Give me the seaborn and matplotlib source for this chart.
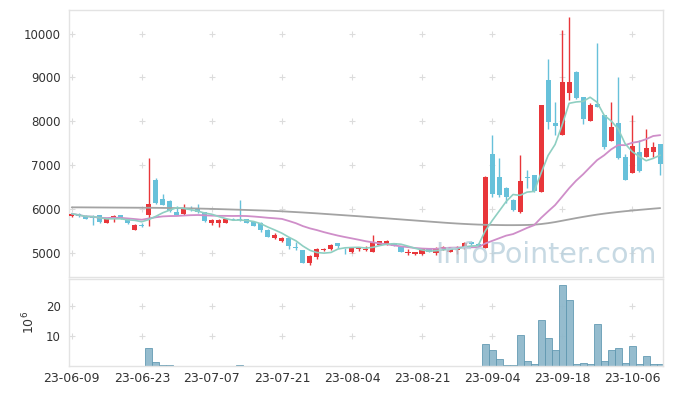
import numpy as np
import pandas as pd
import matplotlib
matplotlib.use("Agg")
import matplotlib.pyplot as plt
import seaborn as sns

# ---- data ----
opens = [5840, 5900, 5850, 5840, 5870, 5700, 5770, 5870, 5780, 5540,
         5650, 5880, 6670, 6230, 6200, 5950, 5885, 6040, 6015, 5940,
         5690, 5690, 5690, 5790, 5770, 5770, 5710, 5700, 5540, 5340,
         5290, 5340, 5150, 5075, 4770, 4910, 5080, 5090, 5230, 5080,
         5020, 5090, 5080, 5040, 5190, 5200, 5230, 5150, 5000, 4980,
         4980, 5100, 5000, 5100, 5030, 5080, 5110, 5260, 5220, 5130,
         7260, 6740, 6490, 6210, 5950, 6730, 6770, 6400, 8940, 7960,
         7690, 8650, 9130, 8550, 8015, 8395, 8145, 7560, 7955, 7200,
         6835, 7310, 7200, 7310, 7485]
highs = [5920, 5910, 5860, 5870, 5880, 5790, 5880, 5880, 5790, 5660,
         5690, 7170, 6720, 6350, 6210, 6080, 6110, 6080, 6130, 5950,
         5790, 5790, 5780, 5800, 6220, 5780, 5720, 5710, 5550, 5450,
         5360, 5345, 5265, 5080, 4950, 5110, 5120, 5210, 5240, 5130,
         5140, 5140, 5160, 5410, 5290, 5300, 5240, 5160, 5090, 5040,
         5100, 5110, 5150, 5160, 5120, 5160, 5250, 5280, 5230, 6750,
         7690, 7160, 6515, 6240, 7230, 6900, 6780, 8380, 9430, 8450,
         10080, 10380, 9140, 8560, 8410, 9775, 8150, 8450, 9010, 7260,
         8140, 7570, 7820, 7540, 7490]
lows = [5820, 5830, 5770, 5650, 5690, 5690, 5710, 5770, 5670, 5530,
        5600, 5610, 6130, 6100, 5950, 5870, 5880, 5960, 5920, 5720,
        5640, 5600, 5680, 5750, 5740, 5690, 5620, 5490, 5370, 5330,
        5260, 5090, 5080, 4770, 4740, 4880, 5060, 5080, 5130, 4990,
        5010, 5050, 5050, 5030, 5180, 5190, 5170, 5030, 4960, 4970,
        4970, 5030, 4960, 5080, 5020, 4990, 5100, 5190, 5160, 5120,
        6290, 6290, 6140, 5970, 5920, 6480, 6400, 6390, 7820, 7680,
        7680, 8490, 8520, 7940, 8000, 8320, 7380, 7550, 7150, 6660,
        6830, 6860, 7190, 7200, 6780]
closes = [5900, 5840, 5780, 5810, 5710, 5770, 5855, 5780, 5690, 5650,
          5610, 6110, 6140, 6100, 5955, 5880, 6020, 6000, 5940, 5730,
          5750, 5750, 5770, 5760, 5750, 5700, 5630, 5520, 5380, 5415,
          5340, 5170, 5115, 4780, 4930, 5090, 5100, 5190, 5170, 5070,
          5130, 5120, 5100, 5260, 5270, 5285, 5175, 5040, 5040, 5030,
          5090, 5040, 5090, 5140, 5100, 5140, 5245, 5200, 5170, 6740,
          6340, 6330, 6290, 5985, 6645, 6710, 6410, 8370, 7990, 7900,
          8900, 8900, 8525, 8055, 8370, 8330, 7425, 7880, 7160, 6670,
          7440, 6870, 7390, 7425, 7035]
volume_m = [0.1, 0.1, 0.1, 0.1, 0.1, 0.1, 0.1, 0.1, 0.1, 0.1,
            0.1, 6.0, 1.3, 0.35, 0.35, 0.1, 0.1, 0.1, 0.1, 0.1,
            0.1, 0.1, 0.1, 0.1, 0.3, 0.1, 0.1, 0.1, 0.1, 0.1,
            0.1, 0.1, 0.1, 0.1, 0.1, 0.1, 0.1, 0.1, 0.1, 0.1,
            0.1, 0.1, 0.1, 0.1, 0.1, 0.1, 0.1, 0.1, 0.1, 0.1,
            0.1, 0.1, 0.1, 0.1, 0.1, 0.1, 0.1, 0.1, 0.1, 7.3,
            5.4, 2.4, 0.35, 0.35, 10.3, 1.8, 0.8, 15.3, 9.3, 5.4,
            27.0, 22.0, 0.7, 1.0, 0.7, 14.0, 1.8, 5.4, 6.0, 1.1,
            6.7, 0.8, 3.3, 0.8, 0.8]
ma_long = [6045, 6045, 6044, 6043, 6042, 6041, 6040, 6039, 6038, 6037,
           6036, 6035, 6034, 6032, 6030, 6028, 6025, 6022, 6018, 6014,
           6010, 6005, 6000, 5995, 5990, 5985, 5980, 5975, 5970, 5963,
           5955, 5946, 5937, 5928, 5918, 5908, 5897, 5886, 5875, 5864,
           5853, 5842, 5830, 5818, 5806, 5794, 5782, 5770, 5758, 5746,
           5734, 5722, 5710, 5698, 5687, 5677, 5668, 5660, 5653, 5648,
           5645, 5642, 5640, 5640, 5641, 5644, 5650, 5665, 5685, 5710,
           5740, 5770, 5800, 5828, 5855, 5880, 5902, 5922, 5940, 5957,
           5972, 5987, 6001, 6015, 6028]
tick_labels = ['23-06-09', '23-06-23', '23-07-07', '23-07-21', '23-08-04',
               '23-08-21', '23-09-04', '23-09-18', '23-10-06']
price_ticks = [5000, 6000, 7000, 8000, 9000, 10000]
vol_ticks = [10, 20]

df = pd.DataFrame({"o": opens, "h": highs, "l": lows, "c": closes, "v": volume_m,
                   "ma120": ma_long})
df["i"] = np.arange(len(df))
df["ma5"] = df["c"].rolling(5, min_periods=1).mean()
df["ma20"] = df["c"].rolling(20, min_periods=1).mean()

sns.set_theme(style="white")
plt.rcParams["font.family"] = ["DejaVu Sans"]

RED = "#e8363a"
BLUE = "#67c1da"
TXT = "#333333"
SPINE = "#e3e3e3"

fig = plt.figure(figsize=(6.73, 3.96), dpi=100)
ax = fig.add_axes([0.1030, 0.3005, 0.8826, 0.6742])
axv = fig.add_axes([0.1030, 0.0758, 0.8826, 0.2197], sharex=ax)

xt = list(range(0, len(df), 10))[:len(tick_labels)]

# grid crosses
for a, yts in ((ax, price_ticks), (axv, vol_ticks)):
    gx, gy = np.meshgrid(xt, yts)
    a.scatter(gx.ravel(), gy.ravel(), marker="+", s=22, color="#dcdcdc",
              linewidths=0.8, zorder=0)

# candles
up = df["c"] >= df["o"]
colors = np.where(up, RED, BLUE)
body_h = (df["c"] - df["o"]).abs().clip(lower=12)
body_b = df[["o", "c"]].min(axis=1)
ax.vlines(df["i"], df["l"], df["h"], colors=colors, linewidth=1.0, zorder=2)
ax.bar(df["i"], body_h, bottom=body_b, width=0.72, color=colors, zorder=3,
       linewidth=0)

# moving averages
sns.lineplot(x=df["i"], y=df["ma120"], ax=ax, color="#a3a3a3", lw=1.3, zorder=4)
sns.lineplot(x=df["i"], y=df["ma20"], ax=ax, color="#cf8ec9", lw=1.3, zorder=4)
sns.lineplot(x=df["i"], y=df["ma5"], ax=ax, color="#8fcfc2", lw=1.2, zorder=4)

ax.text(0.989, 0.082, "InfoPointer.com", transform=ax.transAxes, ha="right",
        va="center", fontsize=20.5, color="#b9d0dc", alpha=0.8, zorder=5)

ax.set_xlim(-0.35, 84.45)
ax.set_ylim(4460, 10535)
ax.set_yticks(price_ticks)
ax.set_yticklabels([str(t) for t in price_ticks])
ax.set_xlabel("")
ax.set_ylabel("")
ax.tick_params(axis="y", length=0, labelsize=8.5, labelcolor=TXT, pad=6)
ax.tick_params(axis="x", length=0, labelbottom=False)

# volume
axv.bar(df["i"], df["v"], width=1.0, color="#8fb9cc", edgecolor="#5e97b0",
        linewidth=0.6, alpha=0.95)
axv.set_ylim(0, 29)
axv.set_yticks(vol_ticks)
axv.set_yticklabels([str(t) for t in vol_ticks])
axv.set_xticks(xt)
axv.set_xticklabels(tick_labels)
axv.tick_params(axis="y", length=0, labelsize=8.5, labelcolor=TXT, pad=6)
axv.tick_params(axis="x", length=0, labelsize=9, labelcolor=TXT, pad=4)
axv.set_ylabel(r"$10^6$", fontsize=9, color=TXT, labelpad=6)

for a in (ax, axv):
    for s in a.spines.values():
        s.set_color(SPINE)
        s.set_linewidth(1.0)

fig.savefig("out.png", dpi=100)
